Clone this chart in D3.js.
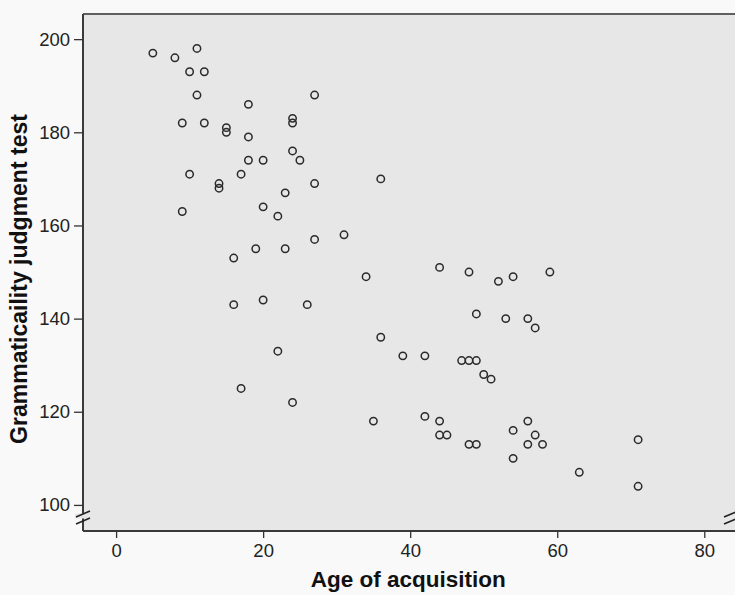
<!DOCTYPE html>
<html>
<head>
<meta charset="utf-8">
<script src="https://cdn.jsdelivr.net/npm/d3@7"></script>
<style>
  html, body { margin: 0; padding: 0; background: #f8f8f8; }
  svg { display: block; }
  text { font-family: "Liberation Sans", Arial, Helvetica, sans-serif; }
</style>
</head>
<body>
<svg id="chart" width="735" height="595"></svg>
<script>
// ---- data ----
const ageOfAcquisition = [
  5, 8, 11, 10, 12, 11, 18, 9, 12, 15, 15, 24, 24, 18, 24, 25, 18, 20, 10, 17,
  14, 14, 23, 20, 22, 9, 19, 23, 16, 27, 27, 36, 27, 31, 34, 44, 48, 26, 49, 36,
  39, 42, 47, 48, 49, 50, 51, 52, 20, 16, 22, 24, 35, 42, 44, 44, 45, 48, 49, 17,
  54, 59, 53, 56, 57, 56, 54, 57, 56, 58, 54, 63, 71, 71
];
const grammaticalityScore = [
  197, 196, 198, 193, 193, 188, 186, 182, 182, 181, 180, 183, 182, 179, 176, 174, 174, 174, 171, 171,
  169, 168, 167, 164, 162, 163, 155, 155, 153, 188, 169, 170, 157, 158, 149, 151, 150, 143, 141, 136,
  132, 132, 131, 131, 131, 128, 127, 148, 144, 143, 133, 122, 118, 119, 118, 115, 115, 113, 113, 125,
  149, 150, 140, 140, 138, 118, 116, 115, 113, 113, 110, 107, 114, 104
];
const xTicks = [0, 20, 40, 60, 80];
const yTicks = [100, 120, 140, 160, 180, 200];
const xLabel = "Age of acquisition";
const yLabel = "Grammaticaility judgment test";

// ---- layout ----
const W = 735, H = 595;
const plot = { left: 83, right: 737, top: 14, bottom: 531 };

const svg = d3.select("#chart");

const x = d3.scaleLinear().domain([-4.5, 84.45]).range([plot.left, plot.right]);
const y = d3.scaleLinear().domain([94.4, 205.4]).range([plot.bottom, plot.top]);

// outer background
svg.append("rect").attr("x", 0).attr("y", 0).attr("width", W).attr("height", H).attr("fill", "#f9f9f9");

// plot background
svg.append("rect")
  .attr("x", plot.left).attr("y", plot.top)
  .attr("width", plot.right - plot.left).attr("height", plot.bottom - plot.top)
  .attr("fill", "#e7e7e7");

// frame lines: top, left, bottom
svg.append("line").attr("x1", plot.left).attr("x2", plot.right).attr("y1", plot.top).attr("y2", plot.top)
  .attr("stroke", "#606060").attr("stroke-width", 2);
svg.append("line").attr("x1", plot.left).attr("x2", plot.right).attr("y1", plot.bottom).attr("y2", plot.bottom)
  .attr("stroke", "#3a3a3a").attr("stroke-width", 2);
svg.append("line").attr("x1", plot.left).attr("x2", plot.left).attr("y1", plot.top).attr("y2", plot.bottom)
  .attr("stroke", "#3a3a3a").attr("stroke-width", 2);

// y axis
const yAxis = d3.axisLeft(y).tickValues(yTicks).tickSize(9).tickPadding(4).tickFormat(d3.format("d"));
const gy = svg.append("g").attr("transform", `translate(${plot.left},0)`).call(yAxis);
gy.select(".domain").remove();
gy.selectAll(".tick line").attr("stroke", "#333").attr("stroke-width", 1.3);
gy.selectAll(".tick text").attr("font-size", 18.5).attr("fill", "#222")
  .attr("font-family", "'Liberation Sans', Arial, sans-serif");

// x axis
const xAxis = d3.axisBottom(x).tickValues(xTicks).tickSize(7).tickPadding(6).tickFormat(d3.format("d"));
const gx = svg.append("g").attr("transform", `translate(0,${plot.bottom})`).call(xAxis);
gx.select(".domain").remove();
gx.selectAll(".tick line").attr("stroke", "#333").attr("stroke-width", 1.3);
gx.selectAll(".tick text").attr("font-size", 18.5).attr("fill", "#222")
  .attr("font-family", "'Liberation Sans', Arial, sans-serif");

// axis break marks (left and right)
function breakMarks(cx) {
  const g = svg.append("g");
  const yb = y(97.3);
  g.append("rect").attr("x", cx - 8).attr("y", yb - 4).attr("width", 16).attr("height", 5).attr("fill", "#e7e7e7");
  [-3.5, 3.5].forEach(off => {
    g.append("line")
      .attr("x1", cx - 7).attr("y1", yb + off + 3)
      .attr("x2", cx + 7).attr("y2", yb + off - 3)
      .attr("stroke", "#222").attr("stroke-width", 1.6);
  });
}
breakMarks(plot.left);
breakMarks(731);

// points
const pts = ageOfAcquisition.map((a, i) => ({ a, g: grammaticalityScore[i] }));
svg.append("g").selectAll("circle").data(pts).enter().append("circle")
  .attr("cx", d => x(d.a)).attr("cy", d => y(d.g))
  .attr("r", 3.7)
  .attr("fill", "none")
  .attr("stroke", "#2a2a2a")
  .attr("stroke-width", 1.5);

// axis titles
svg.append("text")
  .attr("x", (x(0) + x(80)) / 2 - 2).attr("y", 587)
  .attr("text-anchor", "middle")
  .attr("font-size", 22.5).attr("font-weight", "bold").attr("fill", "#111")
  .text(xLabel);

svg.append("text")
  .attr("transform", `translate(27, ${279}) rotate(-90)`)
  .attr("text-anchor", "middle")
  .attr("font-size", 23).attr("font-weight", "bold").attr("fill", "#111")
  .text(yLabel);
</script>
</body>
</html>
